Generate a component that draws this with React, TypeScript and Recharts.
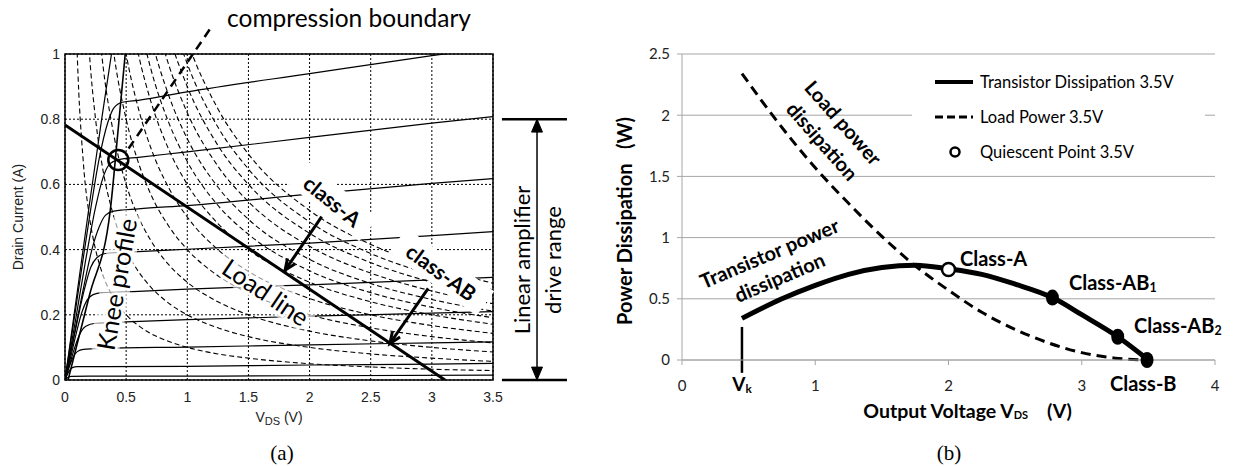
import React from "react";
import {
  LineChart, ComposedChart, Line, Scatter, XAxis, YAxis, CartesianGrid,
  ReferenceLine, ReferenceDot, ReferenceArea, Legend, Label,
} from "recharts";

const SANS = "'Liberation Sans', Arial, sans-serif";
const CAL = "Lato, 'Open Sans', sans-serif";
const SERIF = "'Liberation Serif', 'Times New Roman', serif";

// ---------- (a) output characteristics: [V_DS, I_D] ----------
const ivTop = [[0, 0], [0.1, 0.27], [0.2, 0.54], [0.3, 0.8], [0.38, 1.0], [0.43, 1.12]];
const iv1 = [[0, 0], [0.08, 0.2], [0.18, 0.45], [0.28, 0.68], [0.35, 0.79], [0.4, 0.835], [0.47, 0.852], [0.6, 0.858], [1, 0.884], [2, 0.94], [3, 0.995], [3.5, 1.02]];
const iv2 = [[0, 0], [0.08, 0.17], [0.17, 0.37], [0.25, 0.53], [0.31, 0.62], [0.36, 0.66], [0.44, 0.676], [0.6, 0.683], [1, 0.7], [2, 0.744], [3, 0.788], [3.5, 0.808]];
const iv3 = [[0, 0], [0.07, 0.13], [0.15, 0.28], [0.22, 0.4], [0.28, 0.47], [0.33, 0.505], [0.4, 0.518], [0.6, 0.525], [1, 0.535], [2, 0.57], [3, 0.603], [3.5, 0.618]];
const iv4 = [[0, 0], [0.05, 0.09], [0.1, 0.18], [0.16, 0.28], [0.21, 0.345], [0.26, 0.375], [0.33, 0.388], [0.6, 0.394], [1, 0.401], [2, 0.42], [3, 0.443], [3.5, 0.455]];
const iv5 = [[0, 0], [0.04, 0.06], [0.09, 0.14], [0.14, 0.21], [0.18, 0.245], [0.23, 0.262], [0.3, 0.268], [0.6, 0.272], [1, 0.279], [2, 0.292], [3, 0.307], [3.5, 0.315]];
const iv6 = [[0, 0], [0.04, 0.05], [0.08, 0.1], [0.12, 0.14], [0.17, 0.165], [0.25, 0.174], [0.5, 0.178], [1, 0.185], [2, 0.196], [3, 0.205], [3.5, 0.21]];
const iv7 = [[0, 0], [0.03, 0.035], [0.06, 0.065], [0.1, 0.087], [0.15, 0.094], [0.3, 0.097], [1, 0.101], [2, 0.108], [3, 0.114], [3.5, 0.117]];
const iv8 = [[0, 0], [0.03, 0.025], [0.06, 0.038], [0.1, 0.041], [0.3, 0.041], [1, 0.042], [2, 0.046], [3, 0.049], [3.5, 0.051]];
const iv9 = [[0, 0], [0.02, 0.007], [0.05, 0.011], [0.2, 0.012], [1, 0.012], [2, 0.013], [3.5, 0.015]];
const kneeProfile = [[0.025, 0], [0.2, 0.26], [0.37, 0.52], [0.43, 0.75], [0.5, 1.03]];
const loadLine = [[0, 0.782], [3.107, 0]];

// constant power contours (dashed): current at each voltage of contourV
const contourV = [0.08, 0.1, 0.15, 0.2, 0.25, 0.3, 0.4, 0.5, 0.6, 0.7, 0.85, 1.0, 1.25, 1.5, 2.0, 2.5, 3.0, 3.5];
const c010 = [1.25, 1.0, 0.667, 0.5, 0.4, 0.333, 0.25, 0.2, 0.167, 0.143, 0.118, 0.1, 0.08, 0.067, 0.05, 0.04, 0.033, 0.029];
const c020 = [null, null, 1.333, 1.0, 0.8, 0.667, 0.5, 0.4, 0.333, 0.286, 0.235, 0.2, 0.16, 0.133, 0.1, 0.08, 0.067, 0.057];
const c030 = [null, null, null, 1.5, 1.2, 1.0, 0.75, 0.6, 0.5, 0.429, 0.353, 0.3, 0.24, 0.2, 0.15, 0.12, 0.1, 0.086];
const c040 = [null, null, null, null, null, 1.333, 1.0, 0.8, 0.667, 0.571, 0.471, 0.4, 0.32, 0.267, 0.2, 0.16, 0.133, 0.114];
const c050 = [null, null, null, null, null, null, 1.25, 1.0, 0.833, 0.714, 0.588, 0.5, 0.4, 0.333, 0.25, 0.2, 0.167, 0.143];
const c060 = [null, null, null, null, null, null, null, 1.2, 1.0, 0.857, 0.706, 0.6, 0.48, 0.4, 0.3, 0.24, 0.2, 0.171];
const c067 = [null, null, null, null, null, null, null, 1.34, 1.117, 0.957, 0.788, 0.67, 0.536, 0.447, 0.335, 0.268, 0.223, 0.191];
const c074 = [null, null, null, null, null, null, null, null, 1.233, 1.057, 0.871, 0.74, 0.592, 0.493, 0.37, 0.296, 0.247, 0.211];
const c082 = [null, null, null, null, null, null, null, null, 1.367, 1.171, 0.965, 0.82, 0.656, 0.547, 0.41, 0.328, 0.273, 0.234];
const c090 = [null, null, null, null, null, null, null, null, null, 1.286, 1.059, 0.9, 0.72, 0.6, 0.45, 0.36, 0.3, 0.257];
const c097 = [null, null, null, null, null, null, null, null, null, 1.386, 1.141, 0.97, 0.776, 0.647, 0.485, 0.388, 0.323, 0.277];
const c104 = [null, null, null, null, null, null, null, null, null, null, 1.224, 1.04, 0.832, 0.693, 0.52, 0.416, 0.347, 0.297];

const vTicksA = [0, 0.5, 1, 1.5, 2, 2.5, 3, 3.5];
const iTicksA = [0, 0.2, 0.4, 0.6, 0.8, 1];

// ---------- (b) power vs output voltage ----------
const transV = [0.45, 0.75, 1.0, 1.25, 1.5, 1.75, 2.0, 2.25, 2.5, 2.78, 3.0, 3.27, 3.5];
const transP = [0.34, 0.5, 0.61, 0.7, 0.755, 0.775, 0.745, 0.7, 0.62, 0.51, 0.37, 0.19, 0.0];
const loadV = [0.45, 0.7, 1.0, 1.25, 1.5, 1.75, 2.0, 2.25, 2.5, 2.75, 3.0, 3.25, 3.5];
const loadP = [2.34, 1.97, 1.57, 1.28, 1.01, 0.77, 0.57, 0.39, 0.25, 0.14, 0.06, 0.015, 0];
const quiescentV = [2.0];
const quiescentP = [0.74];
const classV = [2.78, 3.27, 3.49];
const classP = [0.51, 0.19, 0.0];
const vTicksB = [0, 1, 2, 3, 4];
const pTicksB = [0, 0.5, 1, 1.5, 2, 2.5];
const legendOrder = ["Transistor Dissipation 3.5V", "Load Power 3.5V", "Quiescent Point 3.5V"];

const pairs = (a: number[][]) => a.map(([v, i]) => ({ v, i }));
const ivData = [ivTop, iv1, iv2, iv3, iv4, iv5, iv6, iv7, iv8, iv9].map(pairs);
const contourData = [c010, c020, c030, c040, c050, c060, c067, c074, c082, c090, c097, c104].map((c) =>
  contourV.map((v, k) => ({ v, i: c[k] }))
);
const transData = transV.map((v, k) => ({ v, p: transP[k] }));
const loadData = loadV.map((v, k) => ({ v, p: loadP[k] }));
const qData = quiescentV.map((v, k) => ({ v, p: quiescentP[k] }));
const classData = classV.map((v, k) => ({ v, p: classP[k] }));

// ---------- shapes ----------
const arrow = (twoHeads: boolean, w = 3, L = 12, filled = false) => (p: any) => {
  const { x1, y1, x2, y2 } = p;
  const a = Math.atan2(y2 - y1, x2 - x1);
  const head = (x: number, y: number, ang: number) => {
    const s = 0.4;
    const ax = x - L * Math.cos(ang - s), ay = y - L * Math.sin(ang - s);
    const bx = x - L * Math.cos(ang + s), by = y - L * Math.sin(ang + s);
    return filled ? `M${ax},${ay} L${x},${y} L${bx},${by} Z` : `M${ax},${ay} L${x},${y} L${bx},${by}`;
  };
  return (
    <g>
      <line x1={x1} y1={y1} x2={x2} y2={y2} stroke="#000" strokeWidth={w} />
      <path d={head(x2, y2, a)} fill={filled ? "#000" : "none"} stroke="#000" strokeWidth={filled ? 1 : w} />
      {twoHeads && <path d={head(x1, y1, a + Math.PI)} fill={filled ? "#000" : "none"} stroke="#000" strokeWidth={filled ? 1 : w} />}
    </g>
  );
};

const plainText = (txt: string, rot: number, size: number, weight = 400, anchor: any = "middle", family = CAL) => (p: any) => (
  <g transform={`translate(${p.cx},${p.cy}) rotate(${rot})`}>
    <text textAnchor={anchor} dominantBaseline="central" fontFamily={family} fontWeight={weight} fontSize={size} fill="#000">{txt}</text>
  </g>
);

const boxedText = (txt: string, rot: number, size: number, w: number, h: number) => (p: any) => (
  <g transform={`translate(${p.cx},${p.cy}) rotate(${rot})`}>
    <rect x={-w / 2} y={-h / 2} width={w} height={h} fill="#fff" />
    <text textAnchor="middle" dominantBaseline="central" fontFamily={CAL} fontWeight={700} fontSize={size} fill="#000">{txt}</text>
  </g>
);

const softText = (txt: string, rot: number, size: number, w: number, h: number) => (p: any) => (
  <g transform={`translate(${p.cx},${p.cy}) rotate(${rot})`}>
    <rect x={-w / 2} y={-h / 2} width={w} height={h} rx={h / 2} fill="#fff" fillOpacity={0.6} />
    <text textAnchor="middle" dominantBaseline="central" fontFamily={CAL} fontSize={size} fill="#000"
      stroke="#fff" strokeWidth={5} paintOrder="stroke">{txt}</text>
  </g>
);

const twoLines = (l1: string, l2: string, rot: number, size: number, gap: number) => (p: any) => (
  <g transform={`translate(${p.cx},${p.cy}) rotate(${rot})`} fontFamily={CAL} fontWeight={700} fontSize={size}>
    <text textAnchor="middle" dominantBaseline="central" y={-gap / 2}>{l1}</text>
    <text textAnchor="middle" dominantBaseline="central" y={gap / 2}>{l2}</text>
  </g>
);

const subText = (main: string, sub: string, size: number, anchor: any = "start") => (p: any) => (
  <text x={p.cx} y={p.cy} textAnchor={anchor} dominantBaseline="central" fontFamily={CAL} fontWeight={700} fontSize={size} fill="#000">
    {main}
    {sub && <tspan fontSize={size * 0.62} dy={5}>{sub}</tspan>}
  </text>
);

const openCircle = (p: any) => <circle cx={p.cx} cy={p.cy} r={6.5} fill="#fff" stroke="#000" strokeWidth={2.5} />;
const filledDot = (p: any) => <ellipse cx={p.cx} cy={p.cy} rx={6.5} ry={8} fill="#000" />;

const vdsLabelA = (p: any) => {
  const vb = p.viewBox;
  return (
    <text x={vb.x + vb.width / 2} y={vb.y + 37} textAnchor="middle" dominantBaseline="central" fontFamily={SANS} fontSize={14} fill="#222">
      V<tspan fontSize={11} dy={4}>DS</tspan><tspan dy={-4}> (V)</tspan>
    </text>
  );
};
const drainLabelA = (p: any) => {
  const vb = p.viewBox;
  const cx = vb.x + 18, cy = vb.y + vb.height / 2;
  return (
    <text x={cx} y={cy} transform={`rotate(-90 ${cx} ${cy})`} textAnchor="middle" dominantBaseline="central" fontFamily={SANS} fontSize={14} fill="#222">
      Drain Current (A)
    </text>
  );
};
const xTitleB = (p: any) => {
  const vb = p.viewBox;
  return (
    <text x={vb.x + vb.width / 2 + 19} y={vb.y + 50} textAnchor="middle" dominantBaseline="central" fontFamily={CAL} fontWeight={700} fontSize={19.5} fill="#000" style={{ whiteSpace: "pre" }}>
      Output Voltage V<tspan fontSize={11} dy={4}>DS</tspan><tspan dy={-4}>{"    (V)"}</tspan>
    </text>
  );
};
const yTitleB = (p: any) => {
  const vb = p.viewBox;
  const cx = vb.x + 4, cy = vb.y + 167;
  return (
    <text x={cx} y={cy} transform={`rotate(-90 ${cx} ${cy})`} textAnchor="middle" dominantBaseline="central" fontFamily={CAL} fontWeight={700} fontSize={20} fill="#000" style={{ whiteSpace: "pre" }}>
      {"Power Dissipation   (W)"}
    </text>
  );
};

const legendSymbol = (name: string) => {
  if (name.startsWith("Transistor")) return <line x1={0} y1={7} x2={38} y2={7} stroke="#000" strokeWidth={4} />;
  if (name.startsWith("Load")) return <line x1={0} y1={7} x2={38} y2={7} stroke="#000" strokeWidth={3} strokeDasharray="8 4" />;
  return <circle cx={20} cy={7} r={4.5} fill="#fff" stroke="#000" strokeWidth={2.5} />;
};
const renderLegend = (props: any) => {
  const items = legendOrder.filter((n) => (props.payload || []).some((e: any) => e.value === n));
  return (
    <div style={{ background: "#fff", width: 293, height: 110 }}>
      {items.map((n) => (
        <div key={n} style={{ display: "flex", alignItems: "center", height: 35, fontFamily: CAL, fontSize: 16.5, color: "#000", whiteSpace: "nowrap" }}>
          <svg width={38} height={14} style={{ marginLeft: 23, marginRight: 7 }}>{legendSymbol(n)}</svg>
          <span>{n}</span>
        </div>
      ))}
    </div>
  );
};

function PanelA() {
  const tick = { fontFamily: SANS, fontSize: 14, fill: "#222" };
  return (
    <LineChart width={600} height={466} margin={{ top: 54, right: 107, bottom: 56, left: 0 }}>
      <CartesianGrid stroke="#000" strokeDasharray="2 2" strokeWidth={1} />
      <XAxis type="number" dataKey="v" domain={[0, 3.5]} ticks={vTicksA} allowDataOverflow height={30}
        axisLine={false} tickLine={false} tickSize={0} tickMargin={12} tick={tick}
        label={<Label content={vdsLabelA} />} />
      <YAxis type="number" domain={[0, 1]} ticks={iTicksA} allowDataOverflow width={65}
        axisLine={false} tickLine={false} tickSize={0} tickMargin={5} tick={tick}
        label={<Label content={drainLabelA} />} />
      {contourData.map((d, k) => (
        <Line key={`c${k}`} data={d} dataKey="i" type="monotone" stroke="#000" strokeWidth={1.1}
          strokeDasharray="5 3" dot={false} activeDot={false} isAnimationActive={false} />
      ))}
      {ivData.map((d, k) => (
        <Line key={`iv${k}`} data={d} dataKey="i" type="monotone" stroke="#000" strokeWidth={1.2}
          dot={false} activeDot={false} isAnimationActive={false} />
      ))}
      <Line data={pairs(kneeProfile)} dataKey="i" type="monotone" stroke="#000" strokeWidth={1.6}
        dot={false} activeDot={false} isAnimationActive={false} />
      <Line data={pairs(loadLine)} dataKey="i" type="linear" stroke="#000" strokeWidth={3}
        dot={false} activeDot={false} isAnimationActive={false} />
      <ReferenceArea x1={0} x2={3.5} y1={0} y2={1} fill="none" stroke="#000" strokeWidth={1.5} />

      <ReferenceLine segment={[{ x: 0.52, y: 0.71 }, { x: 1.21, y: 1.09 }]} ifOverflow="visible"
        stroke="#000" strokeWidth={2.5} strokeDasharray="9 6" />
      <ReferenceDot x={0.436} y={0.675} r={10} fill="none" stroke="#000" strokeWidth={2.5} ifOverflow="visible" />
      <ReferenceDot x={1.325} y={1.083} ifOverflow="visible" shape={(p: any) => (
        <text x={p.cx} y={p.cy} fontFamily={CAL} fontSize={24.5} fill="#000">compression boundary</text>
      )} />
      <ReferenceDot x={0.417} y={0.294} ifOverflow="visible" shape={softText("Knee profile", -80, 25, 150, 30)} />
      <ReferenceDot x={1.646} y={0.271} ifOverflow="visible" shape={softText("Load line", 34, 25, 112, 30)} />
      <ReferenceDot x={2.19} y={0.55} ifOverflow="visible" shape={boxedText("class-A", 39, 21, 92, 30)} />
      <ReferenceDot x={3.08} y={0.332} ifOverflow="visible" shape={boxedText("class-AB", 36, 21, 108, 30)} />
      <ReferenceLine segment={[{ x: 2.099, y: 0.501 }, { x: 1.8, y: 0.337 }]} ifOverflow="visible" shape={arrow(false)} />
      <ReferenceLine segment={[{ x: 2.97, y: 0.281 }, { x: 2.657, y: 0.112 }]} ifOverflow="visible" shape={arrow(false)} />

      <ReferenceLine segment={[{ x: 3.573, y: 0.8 }, { x: 4.105, y: 0.8 }]} ifOverflow="visible" stroke="#000" strokeWidth={2.5} />
      <ReferenceLine segment={[{ x: 3.573, y: 0 }, { x: 4.105, y: 0 }]} ifOverflow="visible" stroke="#000" strokeWidth={2.5} />
      <ReferenceLine segment={[{ x: 3.86, y: 0.8 }, { x: 3.86, y: 0 }]} ifOverflow="visible" shape={arrow(true, 1.5, 14, true)} />
      <ReferenceDot x={3.73} y={0.368} ifOverflow="visible" shape={plainText("Linear amplifier", -90, 22)} />
      <ReferenceDot x={3.99} y={0.368} ifOverflow="visible" shape={plainText("drive range", -90, 22)} />
    </LineChart>
  );
}

function PanelB() {
  const tick = { fontFamily: CAL, fontSize: 15, fill: "#222" };
  return (
    <ComposedChart width={637} height={466} margin={{ top: 54, right: 22, bottom: 76, left: 20 }}>
      <CartesianGrid vertical={false} stroke="#a6a6a6" />
      <XAxis type="number" dataKey="v" domain={[0, 4]} ticks={vTicksB} height={30}
        axisLine={{ stroke: "#a6a6a6" }} tickLine={{ stroke: "#a6a6a6" }} tickSize={5} tickMargin={15} tick={tick}
        label={<Label content={xTitleB} />} />
      <YAxis type="number" domain={[0, 2.5]} ticks={pTicksB} width={62}
        axisLine={{ stroke: "#a6a6a6" }} tickLine={{ stroke: "#a6a6a6" }} tickSize={5} tickMargin={7} tick={tick}
        label={<Label content={yTitleB} />} />
      <Line data={loadData} dataKey="p" name="Load Power 3.5V" type="monotone" stroke="#000" strokeWidth={3}
        strokeDasharray="10 6" dot={false} activeDot={false} isAnimationActive={false} />
      <Line data={transData} dataKey="p" name="Transistor Dissipation 3.5V" type="monotone" stroke="#000" strokeWidth={5}
        dot={false} activeDot={false} isAnimationActive={false} />
      <Scatter data={qData} dataKey="p" name="Quiescent Point 3.5V" shape={openCircle} isAnimationActive={false} />
      <Scatter data={classData} dataKey="p" legendType="none" shape={filledDot} isAnimationActive={false} />
      <Legend content={renderLegend} layout="vertical" align="center" verticalAlign="middle"
        wrapperStyle={{ left: 312, top: 64, width: 293, height: 110 }} />

      <ReferenceLine segment={[{ x: 0.45, y: 0.27 }, { x: 0.45, y: -0.105 }]} ifOverflow="visible" stroke="#000" strokeWidth={2.5} />
      <ReferenceDot x={0.45} y={-0.19} ifOverflow="visible" shape={subText("V", "k", 19, "middle")} />
      <ReferenceDot x={2.086} y={0.833} ifOverflow="visible" shape={subText("Class-A", "", 20)} />
      <ReferenceDot x={2.904} y={0.637} ifOverflow="visible" shape={subText("Class-AB", "1", 20)} />
      <ReferenceDot x={3.392} y={0.286} ifOverflow="visible" shape={subText("Class-AB", "2", 20)} />
      <ReferenceDot x={3.212} y={-0.19} ifOverflow="visible" shape={subText("Class-B", "", 20)} />
      <ReferenceDot x={0.692} y={0.778} ifOverflow="visible" shape={twoLines("Transistor power", "dissipation", -23, 20, 26)} />
      <ReferenceDot x={1.135} y={1.866} ifOverflow="visible" shape={twoLines("Load power", "dissipation", 48.7, 20, 28)} />
    </ComposedChart>
  );
}

export default function App() {
  return (
    <div style={{ position: "fixed", left: 0, top: 0, width: 1237, height: 466, background: "#fff", overflow: "hidden" }}>
      <div style={{ position: "absolute", left: 0, top: 0 }}><PanelA /></div>
      <div style={{ position: "absolute", left: 600, top: 0 }}><PanelB /></div>
      <div style={{ position: "absolute", left: 232, top: 440, width: 100, textAlign: "center", fontFamily: SERIF, fontSize: 21, lineHeight: "26px" }}>(a)</div>
      <div style={{ position: "absolute", left: 899, top: 440, width: 100, textAlign: "center", fontFamily: SERIF, fontSize: 21, lineHeight: "26px" }}>(b)</div>
    </div>
  );
}
